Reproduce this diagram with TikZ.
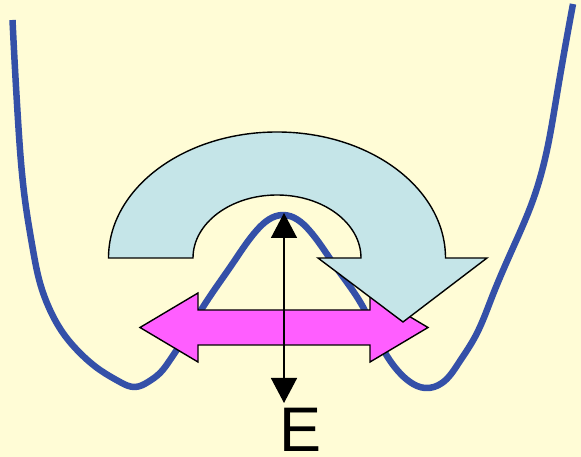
\documentclass[tikz,border=0pt]{standalone}
\usepackage{fontspec}
\setmainfont{Liberation Sans}
\usetikzlibrary{arrows.meta,hobby}
\definecolor{bgyellow}{RGB}{255,252,214}
\definecolor{wellblue}{RGB}{52,80,168}
\definecolor{lightcyan}{RGB}{197,229,232}
\definecolor{pinkish}{RGB}{255,94,255}
\tikzset{
  well/.style={draw=wellblue, line width=6.5pt, line cap=butt, line join=round},
  bigarrow/.style={draw=black, line width=1.4pt, line join=miter},
  earrow/.style={draw=black, line width=1.5pt, {Triangle[width=26pt,length=25pt]}-{Triangle[width=26pt,length=25pt]}},
  label/.style={inner sep=0pt, font=\fontsize{63}{63}\selectfont}
}
\begin{document}
\begin{tikzpicture}[x=1pt,y=1pt]
\fill[bgyellow] (0,0) rectangle (581,457);
\useasboundingbox (0,0) rectangle (581,457);
% double-well potential
\draw[well, use Hobby shortcut] (12.5,437) .. (18,337) .. (25,257) .. (33,207) .. (40,174)
 .. (50,147) .. (63,124) .. (80,104) .. (100,87) .. (120,75) .. (135,70) .. (148,75)
 .. (160,84) .. (170,97) .. (180,112) .. (203,150) .. (233,194) .. (257,227)
 .. (283,242) .. (309,227) .. (333,194) .. (363,150) .. (387,101) .. (398,86) .. (410,75)
 .. (425,69) .. (442,74) .. (458,93) .. (475,120) .. (492,160) .. (512,207) .. (533,257)
 .. (547,307) .. (556,357) .. (573,453);
% pink double arrow
\filldraw[bigarrow, fill=pinkish] (140,129.5) -- (198,164) -- (198,147) -- (370,147) -- (370,164)
  -- (428,129.5) -- (370,95) -- (370,112) -- (198,112) -- (198,95) -- cycle;
% light blue curved arrow
\filldraw[bigarrow, fill=lightcyan] (108.5,199) arc[start angle=180, end angle=0, x radius=168.5, y radius=126]
  -- (487,199) -- (403,135) -- (318,199) -- (361,199)
  arc[start angle=0, end angle=180, x radius=84, y radius=63] -- cycle;
% energy axis
\coordinate (top) at (284,244);
\coordinate (bot) at (284,54);
\draw[earrow] (bot) -- (top);
\node[label, anchor=base] (E) at (300.5,5) {E};
\end{tikzpicture}
\end{document}
